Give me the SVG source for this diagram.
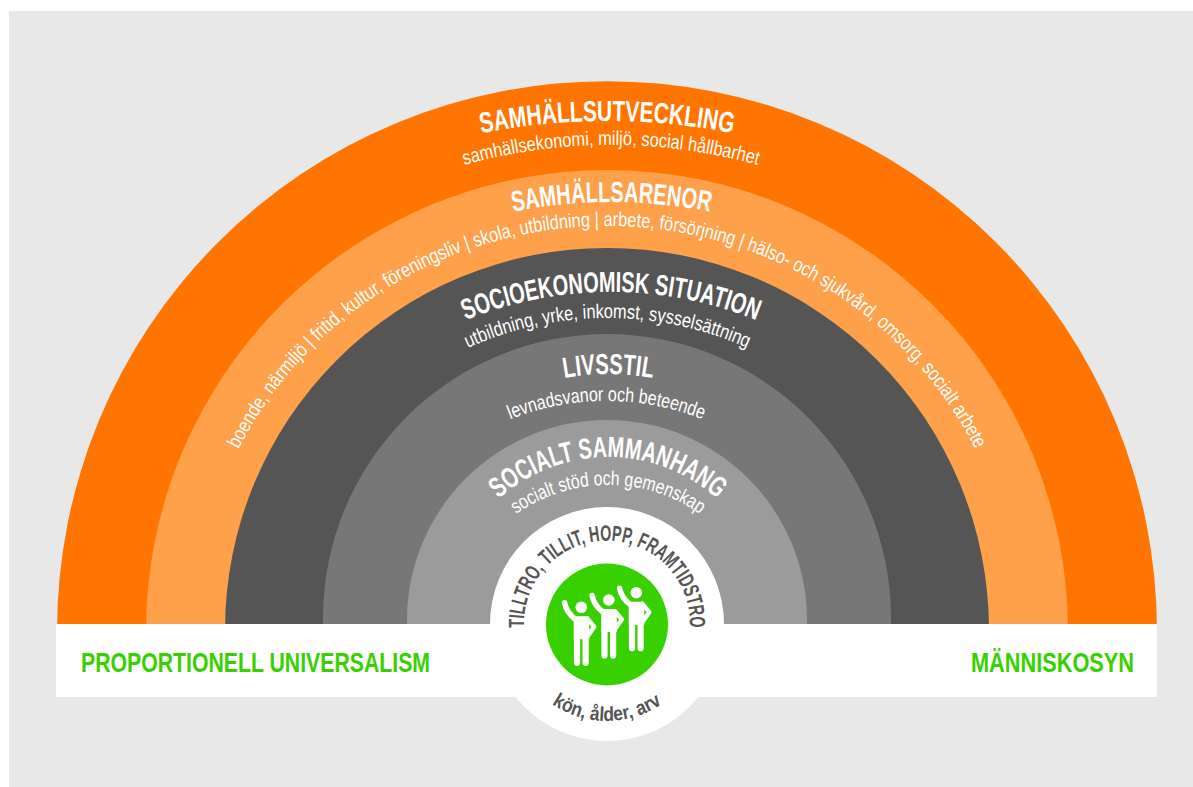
<svg xmlns="http://www.w3.org/2000/svg" width="1193" height="787" viewBox="0 0 1193 787">
<style>
text{font-family:"Liberation Sans Narrow","Liberation Sans",Arial,sans-serif;text-anchor:middle}
.t{font-weight:700;fill:#fff;font-size:29px}
.s{fill:#fff;font-size:20px}
.d{font-weight:700;fill:#555;font-size:22px}
.k{font-weight:700;fill:#555;font-size:20px}
.g{font-weight:700;fill:#39d000;font-size:28px}
</style>
<defs>
<path id="a1" d="M-43 771A650 650 0 0 1 1257 771"/>
<path id="a2" d="M64 692A547 547 0 0 1 1158 692"/>
<path id="a3" d="M111.500 702A500 500 0 0 1 1111.500 702"/>
<path id="a4" d="M195 630A412 404 0 0 1 1019 630"/>
<path id="a5" d="M221 682A390 390 0 0 1 1001 682"/>
<path id="a6" d="M267.500 658A340 340 0 0 1 947.500 658"/>
<path id="a7" d="M364.500 618A244 244 0 0 1 852.500 618"/>
<path id="a8" d="M346.500 661A260 260 0 0 1 866.500 661"/>
<path id="a9" d="M445 620A163 163 0 0 1 771 620"/>
<path id="a10" d="M448 645A160 160 0 0 1 768 645"/>
<path id="a11" d="M525.300 638.400A83 83 0 1 1 688.700 638.400"/>
<path id="a12" d="M510 624A97 97 0 0 0 704 624"/>
<g id="person" fill="none" stroke="#fff" stroke-linecap="round" stroke-linejoin="round">
<circle cx="0" cy="0" r="5.800" fill="#fff" stroke="none"/>
<path d="M-7.600 11Q-7.600 9 -5 9H5Q8 9 8 11V32H-7.600Z" fill="#fff" stroke="none"/>
<path d="M-16.700 -4.500Q-15 5 -6 12" stroke-width="5.500"/>
<path d="M6 11L13 19.500L7 28" stroke-width="4.400"/>
<path d="M-4.300 30V55.500M4.300 30V55.500" stroke-width="6.200"/>
</g>
</defs>
<rect id="bg" x="9" y="11" width="1184" height="776" fill="#e8e8e8"/>
<g id="rings">
<path id="ring1" d="M57 631A550 550 0 0 1 1157 631Z" fill="#ff7500"/>
<path id="ring2" d="M146 631A461 461 0 0 1 1068 631Z" fill="#ffa04a"/>
<path id="ring3" d="M225 630A382 382 0 0 1 989 630Z" fill="#555"/>
<path id="ring4" d="M323 630V618A284 284 0 0 1 891 618V630Z" fill="#777"/>
<path id="ring5" d="M407 630V620A200 200 0 0 1 807 620V630Z" fill="#9b9b9b"/>
</g>
<rect id="band" x="56" y="624" width="1101" height="73" fill="#fff"/>
<circle id="hub" cx="607" cy="624" r="117" fill="#fff"/>
<circle id="core" cx="607" cy="624.500" r="61" fill="#39d000"/>
<g id="people">
<use href="#person" x="581.300" y="607.300"/>
<use href="#person" x="608.800" y="600"/>
<use href="#person" x="636.300" y="592.700"/>
</g>
<g id="labels">
<text class="t"><textPath href="#a1" startOffset="50%" textLength="253" lengthAdjust="spacingAndGlyphs">SAMHÄLLSUTVECKLING</textPath></text>
<text class="s"><textPath href="#a2" startOffset="50%" textLength="297" lengthAdjust="spacingAndGlyphs">samhällsekonomi, miljö, social hållbarhet</textPath></text>
<text class="t"><textPath href="#a3" startOffset="50%" textLength="198" lengthAdjust="spacingAndGlyphs">SAMHÄLLSARENOR</textPath></text>
<text class="s"><textPath href="#a4" startOffset="50%" textLength="906" lengthAdjust="spacingAndGlyphs">boende, närmiljö | fritid, kultur, föreningsliv | skola, utbildning | arbete, försörjning | hälso- och sjukvård, omsorg, socialt arbete</textPath></text>
<text class="t"><textPath href="#a5" startOffset="50%" textLength="298" lengthAdjust="spacingAndGlyphs">SOCIOEKONOMISK SITUATION</textPath></text>
<text class="s"><textPath href="#a6" startOffset="50%" textLength="288" lengthAdjust="spacingAndGlyphs">utbildning, yrke, inkomst, sysselsättning</textPath></text>
<text class="t"><textPath href="#a7" startOffset="50%" textLength="89" lengthAdjust="spacingAndGlyphs">LIVSSTIL</textPath></text>
<text class="s"><textPath href="#a8" startOffset="50%" textLength="197" lengthAdjust="spacingAndGlyphs">levnadsvanor och beteende</textPath></text>
<text class="t"><textPath href="#a9" startOffset="50%" textLength="239" lengthAdjust="spacingAndGlyphs">SOCIALT SAMMANHANG</textPath></text>
<text class="s"><textPath href="#a10" startOffset="50%" textLength="196" lengthAdjust="spacingAndGlyphs">socialt stöd och gemenskap</textPath></text>
<text class="d"><textPath href="#a11" startOffset="50%" textLength="268" lengthAdjust="spacingAndGlyphs">TILLTRO, TILLIT, HOPP, FRAMTIDSTRO</textPath></text>
<text class="k"><textPath href="#a12" startOffset="50%" textLength="117" lengthAdjust="spacingAndGlyphs">kön, ålder, arv</textPath></text>
<text class="g" x="255.500" y="672" textLength="349" lengthAdjust="spacingAndGlyphs">PROPORTIONELL UNIVERSALISM</text>
<text class="g" x="1052.500" y="672" textLength="163" lengthAdjust="spacingAndGlyphs">MÄNNISKOSYN</text>
</g>
</svg>
